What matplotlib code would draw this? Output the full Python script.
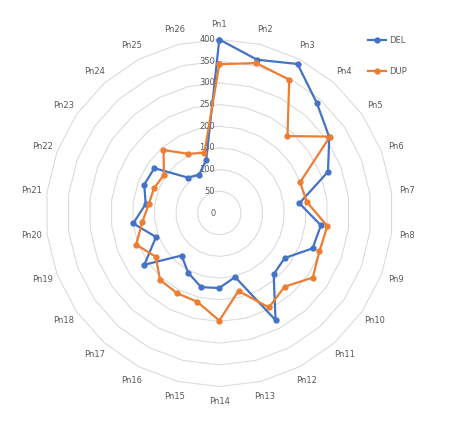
import numpy as np
import matplotlib
matplotlib.use("Agg")
import matplotlib.pyplot as plt
from matplotlib.transforms import offset_copy

categories = [f"Pn{i}" for i in range(1, 27)]
del_values = [400, 364, 388, 339, 308, 268, 186, 236, 230, 183, 189, 279, 152,
              173, 176, 155, 131, 210, 156, 200, 171, 185, 182, 109, 100, 126]
dup_values = [343, 356, 347, 237, 310, 199, 204, 251, 247, 262, 227, 246, 185,
              248, 211, 209, 206, 178, 205, 179, 164, 161, 155, 194, 154, 143]
radial_ticks = [0, 50, 100, 150, 200, 250, 300, 350, 400]

W, H = 457, 428
fig = plt.figure(figsize=(W / 100, H / 100), dpi=100)
cx, cy, R = 219.3, 213.0, 173.5
ax = fig.add_axes([(cx - R) / W, 1 - (cy + R) / H, 2 * R / W, 2 * R / H], projection="polar")
ax.set_theta_zero_location("N")
ax.set_theta_direction(-1)
ax.set_ylim(0, 400)
ax.grid(False)
ax.spines["polar"].set_visible(False)
ax.set_xticks([])
ax.set_yticks([])
ax.patch.set_alpha(0)

n = len(categories)
angles = np.arange(n) * 2 * np.pi / n
closed = np.append(angles, angles[0])

grid_col = "#d9d9d9"
text_col = "#595959"
for r in radial_ticks[1:]:
    ax.plot(closed, [r] * (n + 1), color=grid_col, lw=0.75, zorder=1, clip_on=False)

lab_tr = offset_copy(ax.transData, fig=fig, x=-4, y=0, units="dots")
for r in radial_ticks:
    ax.text(0, r, str(r), transform=lab_tr, ha="right", va="center",
            fontsize=6, color=text_col, zorder=2)

for a, c in zip(angles, categories):
    ax.text(a, 435, c, ha="center", va="center", fontsize=6, color=text_col, clip_on=False)

ax.plot(closed, del_values + [del_values[0]], color="#4472C4", lw=1.6, marker="o",
        markersize=3.5, label="DEL", zorder=3, clip_on=False)
ax.plot(closed, dup_values + [dup_values[0]], color="#ED7D31", lw=1.6, marker="o",
        markersize=3.5, label="DUP", zorder=4, clip_on=False)

leg = fig.legend(loc="upper left", bbox_to_anchor=(368 / W, 1 - 36 / H), frameon=False,
                 fontsize=6, labelspacing=2.65, handlelength=2.2, handletextpad=0.3,
                 borderaxespad=0, borderpad=0)
for t in leg.get_texts():
    t.set_color(text_col)

fig.savefig("out.png", dpi=100)
